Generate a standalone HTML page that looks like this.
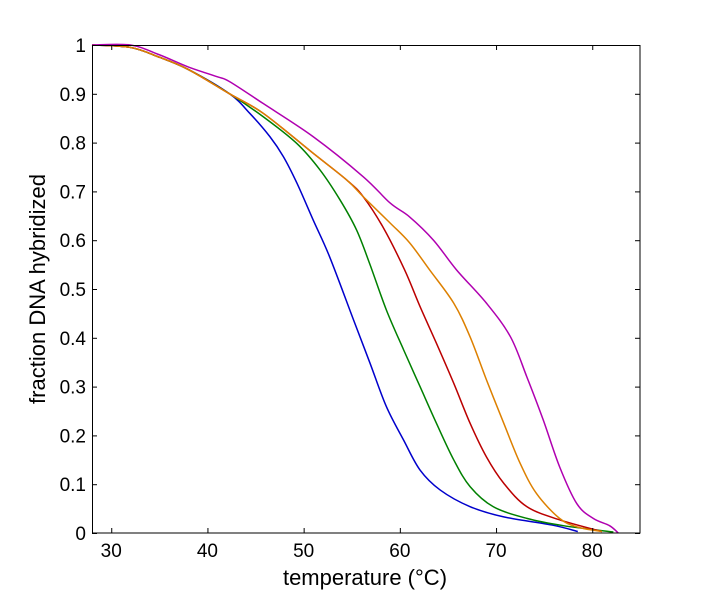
<!DOCTYPE html>
<html><head><meta charset="utf-8"><style>
body{margin:0;background:#fff;}
svg{display:block;font-family:"Liberation Sans",sans-serif;}
</style></head><body>
<svg id="s" width="708" height="600" viewBox="0 0 708 600">
<rect x="0" y="0" width="708" height="600" fill="#fff"/>
<g id="curves" fill="none" stroke-width="1.5"></g>
<rect x="92.5" y="45.5" width="547.5" height="487.5" fill="none" stroke="#000" stroke-width="1"/>
<g id="ticks" stroke="#000" stroke-width="1"></g>
<g id="labels" font-size="19" fill="#000"></g>
<text x="365" y="585" font-size="22" text-anchor="middle">temperature (°C)</text>
<text transform="translate(45,289) rotate(-90)" font-size="22" text-anchor="middle">fraction DNA hybridized</text>
</svg>
<script>
const X=t=>92+(t-28)*9.62, Y=v=>533-v*488;
const ns="http://www.w3.org/2000/svg";
const tk=document.getElementById('ticks'), lb=document.getElementById('labels');
function add(p,tag,a,txt){const e=document.createElementNS(ns,tag);for(const k in a)e.setAttribute(k,a[k]);if(txt!==undefined)e.textContent=txt;p.appendChild(e);}
for(let t=30;t<=80;t+=10){const x=X(t)+0.5;add(tk,'line',{x1:x,y1:533,x2:x,y2:528});add(tk,'line',{x1:x,y1:45,x2:x,y2:50});add(lb,'text',{x:X(t),y:557,'text-anchor':'middle'},t);}
for(let i=0;i<=10;i++){const v=i/10,y=Y(v)+0.5;add(tk,'line',{x1:92,y1:y,x2:97,y2:y});add(tk,'line',{x1:640,y1:y,x2:635,y2:y});add(lb,'text',{x:86,y:Y(v)+7,'text-anchor':'end'},i==0?'0':i==10?'1':v.toFixed(1));}
const start=[[28,1],[32,0.995],[35,0.975],[38,0.95],[42.3,0.9]];
const data={
'#0000cc':[...start,[44.4,0.86],[46.5,0.812],[47.9,0.771],[49.3,0.717],[51,0.641],[52.7,0.566],[55.2,0.436],[56.9,0.348],[58.6,0.259],[60.4,0.19],[62.1,0.129],[64.2,0.088],[67.3,0.054],[70.8,0.033],[75.9,0.016],[78.5,0.003]],
'#008000':[...start,[45.8,0.853],[49.3,0.798],[51.7,0.744],[53.8,0.682],[55.5,0.621],[56.9,0.55],[58.6,0.457],[60.4,0.375],[62.1,0.3],[63.8,0.225],[65.6,0.15],[67.3,0.095],[69.7,0.054],[73.2,0.03],[77,0.015],[82.2,0.002]],
'#bb0000':[...start,[45.8,0.86],[51,0.778],[54.5,0.723],[56.2,0.689],[58.3,0.625],[60.5,0.539],[62.1,0.464],[63.8,0.389],[65.6,0.307],[67.3,0.225],[69,0.156],[70.8,0.102],[73.2,0.054],[76.6,0.027],[81,0.003]],
'#dd8000':[...start,[45.8,0.86],[51,0.778],[54.5,0.723],[56.2,0.689],[59,0.635],[61,0.595],[63.1,0.539],[65.6,0.471],[67.3,0.402],[69,0.314],[70.8,0.225],[72.5,0.143],[74.2,0.081],[76.6,0.03],[78.5,0.012],[81,0.003]],
'#b000b0':[[28,1],[32,1.0],[35,0.98],[38,0.955],[41,0.935],[42.3,0.925],[45.8,0.88],[51,0.812],[56.2,0.73],[59,0.676],[61,0.648],[63.5,0.6],[65.9,0.539],[69,0.471],[71.5,0.402],[73.2,0.32],[74.9,0.232],[76.6,0.136],[78.4,0.06],[80.1,0.03],[81.8,0.015],[82.7,0.0]]
};
const g=document.getElementById('curves');
for(const c in data){const p=data[c].map(([t,v])=>[X(t),Y(v)]);
let d='M'+p[0][0]+','+p[0][1];
for(let i=0;i<p.length-1;i++){const p0=p[i-1]||p[i],p1=p[i],p2=p[i+1],p3=p[i+2]||p2;
d+=` C${p1[0]+(p2[0]-p0[0])/6},${p1[1]+(p2[1]-p0[1])/6} ${p2[0]-(p3[0]-p1[0])/6},${p2[1]-(p3[1]-p1[1])/6} ${p2[0]},${p2[1]}`;}
add(g,'path',{d:d,stroke:c});}
</script>
</body></html>
